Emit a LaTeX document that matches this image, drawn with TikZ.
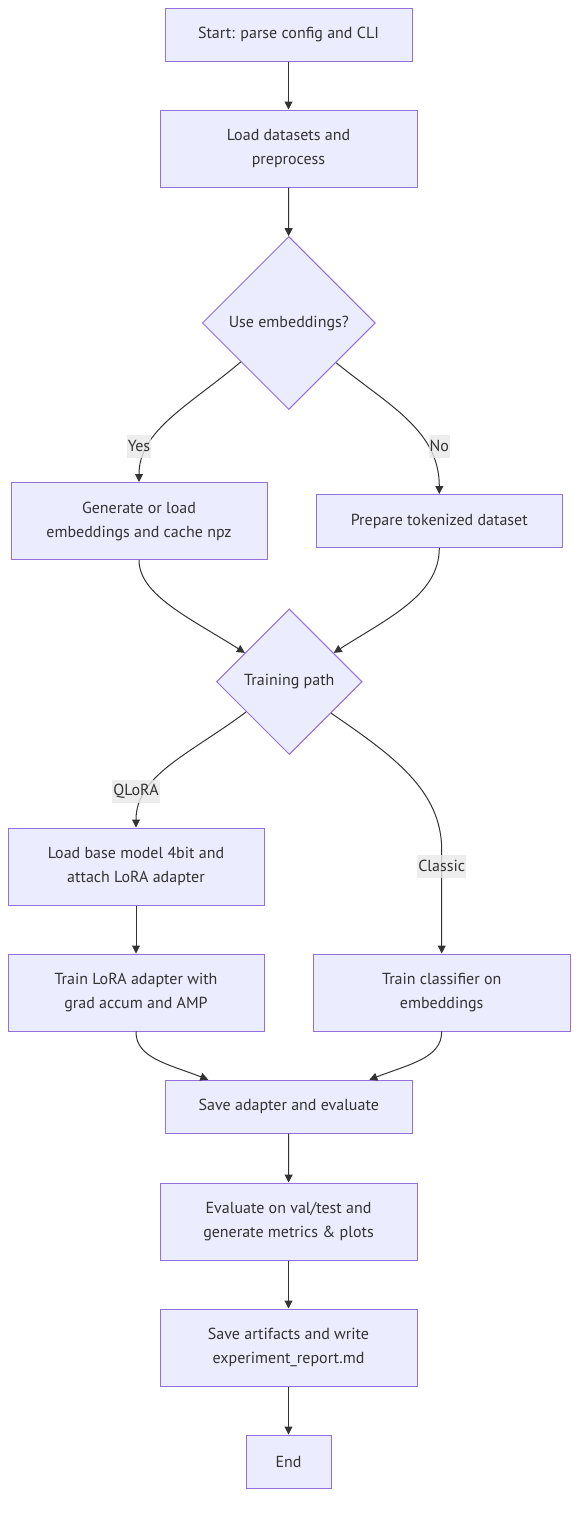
\documentclass[tikz,border=0pt]{standalone}
\usepackage{fontspec}
\setmainfont{PT Sans}
\usetikzlibrary{shapes.geometric,arrows.meta}
\definecolor{nodefill}{HTML}{ECECFF}
\definecolor{nodeline}{HTML}{9370DB}
\definecolor{edgeline}{HTML}{333333}
\definecolor{labelbg}{HTML}{E8E8E8}
\definecolor{textc}{HTML}{333333}
\begin{document}
\begin{tikzpicture}[x=1pt,y=-1pt,
  box/.style={draw=nodeline, fill=nodefill, line width=1pt, rectangle, inner sep=0pt,
    align=center, text=textc, font=\fontsize{16}{24}\selectfont},
  decision/.style={draw=nodeline, fill=nodefill, line width=1pt, diamond, aspect=1,
    inner sep=0pt, align=center, text=textc, font=\fontsize{16}{24}\selectfont},
  flow/.style={draw=edgeline, line width=1pt, -{Triangle[length=8pt,width=8pt]}},
  elabel/.style={fill=labelbg, fill opacity=0.8, text opacity=1, text=textc,
    inner xsep=1pt, inner ysep=0pt, minimum height=23pt, font=\fontsize{16}{20}\selectfont}
]
\useasboundingbox (0,0) rectangle (586,1518);

% nodes
\node[box, minimum width=247pt, minimum height=53pt] (start) at (288.5,34.5) {Start: parse config and CLI};
\node[box, minimum width=257pt, minimum height=77pt] (load) at (288.5,148.5) {Load datasets and\\preprocess};
\node[decision, minimum width=173pt, minimum height=173pt] (emb) at (288.8,323) {Use embeddings?};
\node[box, minimum width=256pt, minimum height=77pt] (gen) at (139,521) {Generate or load\\embeddings and cache npz};
\node[box, minimum width=246pt, minimum height=53pt] (prep) at (439.3,521) {Prepare tokenized dataset};
\node[decision, minimum width=145.6pt, minimum height=145.6pt] (tp) at (289.3,681.7) {Training path};
\node[box, minimum width=256pt, minimum height=77pt] (lb) at (136,866.5) {Load base model 4bit and\\attach LoRA adapter};
\node[box, minimum width=256pt, minimum height=77pt] (tl) at (136,992.5) {Train LoRA adapter with\\grad accum and AMP};
\node[box, minimum width=257pt, minimum height=77pt] (tc) at (441.7,992.5) {Train classifier on\\embeddings};
\node[box, minimum width=247pt, minimum height=53pt] (save) at (288.8,1106.7) {Save adapter and evaluate};
\node[box, minimum width=257pt, minimum height=77pt] (eval) at (288.5,1221.5) {Evaluate on val/test and\\generate metrics \& plots};
\node[box, minimum width=257pt, minimum height=77pt] (art) at (288.5,1347.5) {Save artifacts and write\\experiment\_report.md};
\node[box, minimum width=85pt, minimum height=53pt] (end) at (288.5,1461.5) {End};

% connectors
\draw[flow] (start) -- (load);
\draw[flow] (load) -- (emb);
\draw[flow] (emb.219.3) .. controls (190,405) and (139,430) .. (gen.north);
\draw[flow] (emb.320.7) .. controls (388,405) and (439.3,430) .. (prep.north);
\draw[flow] (gen.south) .. controls (139,595) and (190,618) .. (tp.147.4);
\draw[flow] (prep.south) .. controls (439.3,595) and (388,618) .. (tp.33);
\draw[flow] (tp.215.8) .. controls (190,754) and (136,775) .. (lb.north);
\draw[flow] (tp.323.6) .. controls (392,755) and (441.7,790) .. (441.7,850) -- (tc.north);
\draw[flow] (lb) -- (tl);
\draw[flow] (tl.south) .. controls (135.7,1058) and (168,1064) .. ([xshift=-80.5pt]save.north);
\draw[flow] (tc.south) .. controls (441.7,1058) and (410,1064) .. ([xshift=80.5pt]save.north);
\draw[flow] (save) -- (eval);
\draw[flow] (eval) -- (art);
\draw[flow] (art) -- (end);

% edge labels
\node[elabel] (lyes) at (139,446) {Yes};
\node[elabel] (lno) at (439.3,446) {No};
\node[elabel] (lq) at (136,791.3) {QLoRA};
\node[elabel] (lc) at (441.7,866) {Classic};
\end{tikzpicture}
\end{document}
